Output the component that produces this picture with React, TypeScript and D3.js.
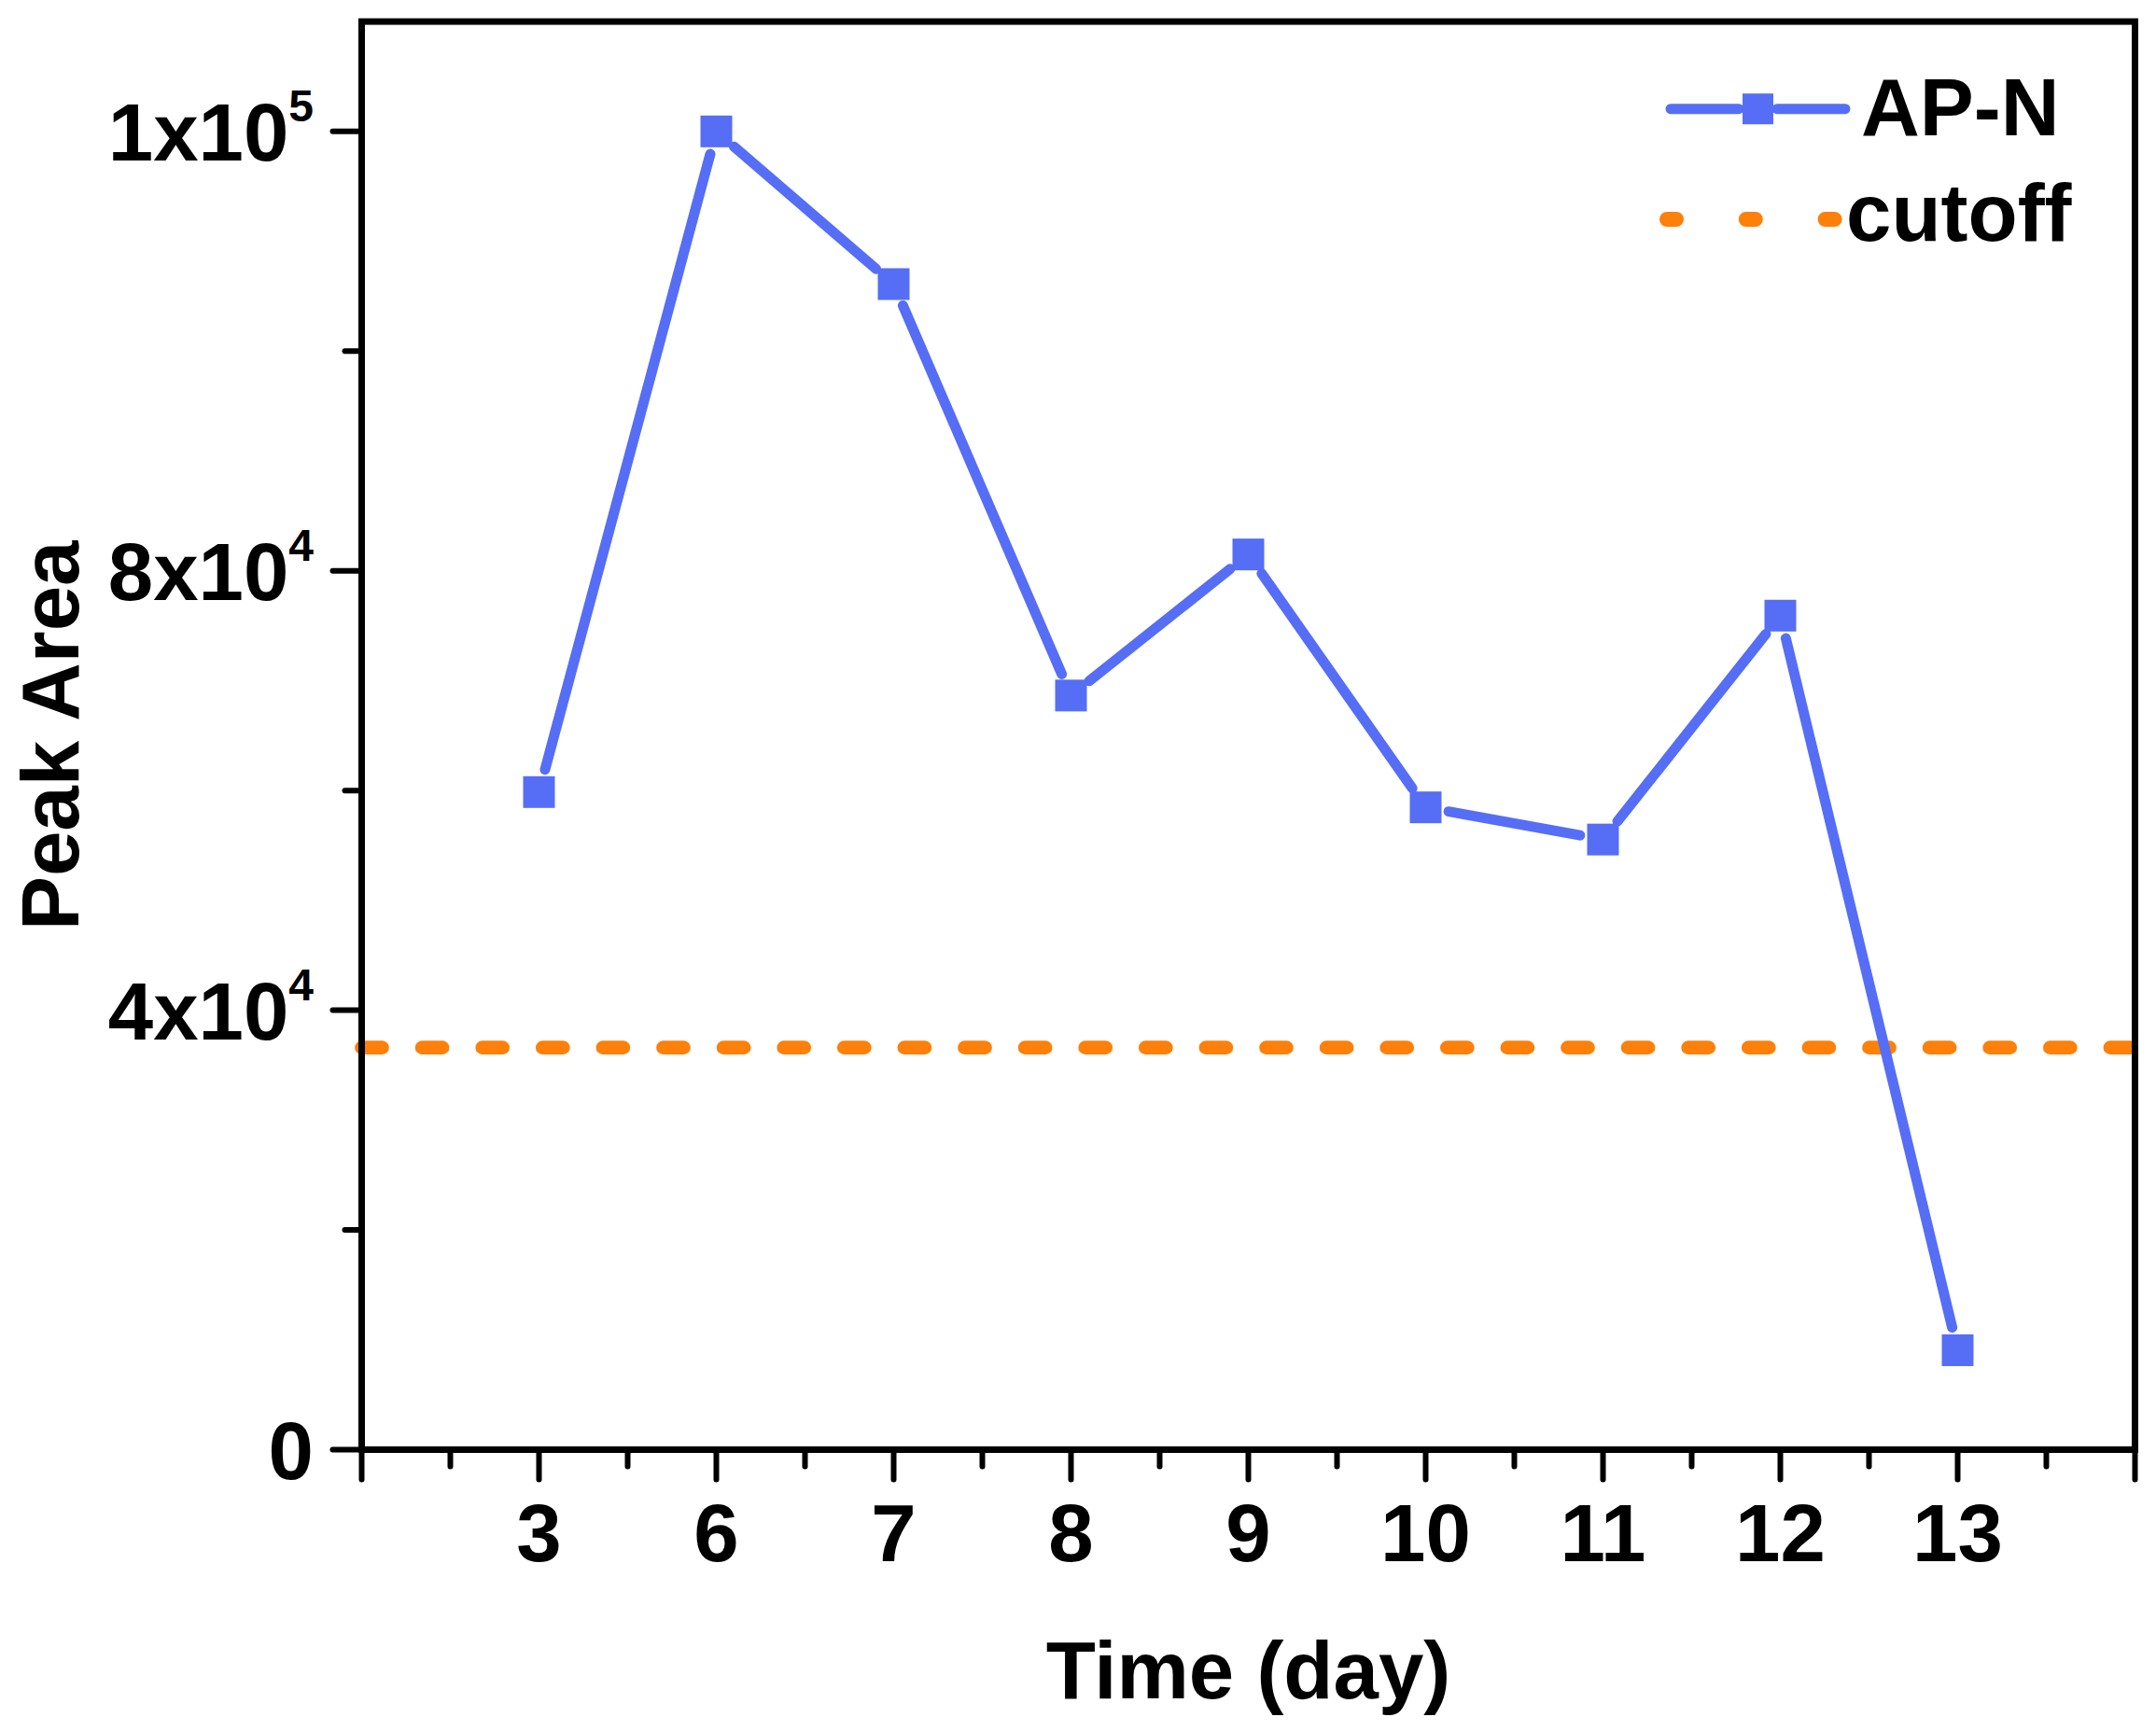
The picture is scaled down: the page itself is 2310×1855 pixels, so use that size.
import React from "react";
import * as d3 from "d3";

const days: string[] = ["3", "6", "7", "8", "9", "10", "11", "12", "13"];
const peakArea: number[] = [59860, 120000, 106100, 68650, 81490, 58470, 55540, 75920, 9050];
const cutoffValue = 36600;
const yMajorTicks: number[] = [0, 40000, 80000, 120000];
const yMinorTicks: number[] = [20000, 60000, 100000];
const yTickBase: string[] = ["0", "4x10", "8x10", "1x10"];
const yTickExp: string[] = ["", "4", "4", "5"];
const seriesName = "AP-N";
const cutoffName = "cutoff";
const xTitle = "Time (day)";
const yTitle = "Peak Area";

const W = 2310;
const H = 1855;
const FONT = "'Liberation Sans', Arial, Helvetica, sans-serif";
const BLUE = "#566EF5";
const ORANGE = "#FC800A";

export default function App() {
  const left = 387.5, right = 2287.5, top = 23.1, bottom = 1553.5;
  const x = d3.scaleLinear().domain([-1, days.length]).range([left, right]);
  const y = d3.scaleLinear().domain([0, 130000]).range([bottom, top]);

  const majorX = d3.range(-1, days.length + 1);
  const minorX = d3.range(-0.5, days.length, 1);

  const pts = peakArea.map((v, i) => [x(i), y(v)] as [number, number]);
  const trim = 25;
  const segs = pts.slice(1).map((p, i) => {
    const a = pts[i];
    const dx = p[0] - a[0], dy = p[1] - a[1];
    const len = Math.hypot(dx, dy);
    const ux = dx / len, uy = dy / len;
    return [a[0] + ux * trim, a[1] + uy * trim, p[0] - ux * trim, p[1] - uy * trim];
  });
  const ms = 34;
  const cy = y(cutoffValue);

  return (
    <div style={{ position: "absolute", left: 0, top: 0 }}>
      <svg width={W} height={H} viewBox={`0 0 ${W} ${H}`} style={{ display: "block", background: "#fff" }}>
        <rect x={0} y={0} width={W} height={H} fill="#fff" />
        {/* cutoff line */}
        <path
          d={d3.line()([[left, cy], [right, cy]]) || ""}
          stroke={ORANGE}
          strokeWidth={14.7}
          strokeLinecap="round"
          strokeDasharray="22 42.6"
          fill="none"
        />
        {/* data line segments */}
        {segs.map((s, i) => (
          <line key={"s" + i} x1={s[0]} y1={s[1]} x2={s[2]} y2={s[3]} stroke={BLUE} strokeWidth={11} strokeLinecap="round" />
        ))}
        {pts.map((p, i) => (
          <rect key={"m" + i} x={p[0] - ms / 2} y={p[1] - ms / 2} width={ms} height={ms} fill={BLUE} />
        ))}
        {/* frame */}
        <rect x={left} y={top} width={right - left} height={bottom - top} fill="none" stroke="#000" strokeWidth={7} />
        {/* x ticks */}
        {majorX.map((t) => (
          <line key={"xm" + t} x1={x(t)} x2={x(t)} y1={bottom} y2={bottom + 32} stroke="#000" strokeWidth={6} strokeLinecap="round" />
        ))}
        {minorX.map((t) => (
          <line key={"xn" + t} x1={x(t)} x2={x(t)} y1={bottom} y2={bottom + 18} stroke="#000" strokeWidth={6} strokeLinecap="round" />
        ))}
        {/* y ticks */}
        {yMajorTicks.map((t) => (
          <line key={"ym" + t} x1={left} x2={left - 31} y1={y(t)} y2={y(t)} stroke="#000" strokeWidth={6} strokeLinecap="round" />
        ))}
        {yMinorTicks.map((t) => (
          <line key={"yn" + t} x1={left} x2={left - 18} y1={y(t)} y2={y(t)} stroke="#000" strokeWidth={6} strokeLinecap="round" />
        ))}
        {/* x tick labels */}
        {days.map((d, i) => (
          <text key={"xl" + i} x={x(i)} y={1673} textAnchor="middle" fontFamily={FONT} fontWeight="bold" fontSize={87} fill="#000">
            {d}
          </text>
        ))}
        {/* y tick labels */}
        {yMajorTicks.map((t, i) => (
          <text key={"yl" + i} x={336} y={y(t) + 31} textAnchor="end" fontFamily={FONT} fontWeight="bold" fontSize={87} fill="#000">
            {yTickBase[i]}
            {yTickExp[i] ? (
              <tspan fontSize={48} dy={-42}>
                {yTickExp[i]}
              </tspan>
            ) : null}
          </text>
        ))}
        {/* axis titles */}
        <text x={(left + right) / 2} y={1820} textAnchor="middle" fontFamily={FONT} fontWeight="bold" fontSize={87} fill="#000">
          {xTitle}
        </text>
        <text
          transform={`translate(84, ${(top + bottom) / 2}) rotate(-90)`}
          textAnchor="middle"
          fontFamily={FONT}
          fontWeight="bold"
          fontSize={87}
          fill="#000"
        >
          {yTitle}
        </text>
        {/* legend */}
        <line x1={1790} x2={1863} y1={116.7} y2={116.7} stroke={BLUE} strokeWidth={11} strokeLinecap="round" />
        <line x1={1904} x2={1977} y1={116.7} y2={116.7} stroke={BLUE} strokeWidth={11} strokeLinecap="round" />
        <rect x={1883.5 - 16.5} y={116.7 - 16.5} width={33} height={33} fill={BLUE} />
        <text x={1994} y={145} fontFamily={FONT} fontWeight="bold" fontSize={87} fill="#000">
          {seriesName}
        </text>
        <path
          d={d3.line()([[1786, 235], [1972, 235]]) || ""}
          stroke={ORANGE}
          strokeWidth={16}
          strokeLinecap="round"
          strokeDasharray="10 74.8"
          fill="none"
        />
        <text x={1978} y={258} fontFamily={FONT} fontWeight="bold" fontSize={87} fill="#000">
          {cutoffName}
        </text>
      </svg>
    </div>
  );
}
